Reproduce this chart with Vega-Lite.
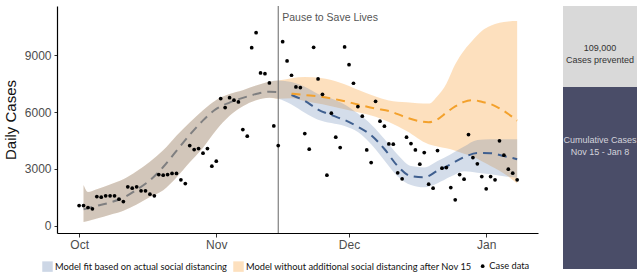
{
  "$schema": "https://vega.github.io/schema/vega-lite/v6.json",
  "padding": {"left": 3, "top": 5, "right": 0, "bottom": 0},
  "background": "white",
  "config": {
    "view": {"stroke": null},
    "font": "Liberation Sans",
    "axis": {"grid": false, "labelFont": "Liberation Sans", "titleFont": "Liberation Sans"}
  },
  "resolve": {
    "scale": {"color": "independent", "shape": "independent", "size": "independent", "x": "independent", "y": "independent"},
    "legend": {"color": "independent", "shape": "independent", "size": "independent"}
  },
  "datasets": {
    "pts": [
      {"date": "2020-10-01", "cases": 1070, "series": "Case data"},
      {"date": "2020-10-02", "cases": 1070, "series": "Case data"},
      {"date": "2020-10-03", "cases": 965, "series": "Case data"},
      {"date": "2020-10-04", "cases": 895, "series": "Case data"},
      {"date": "2020-10-05", "cases": 1545, "series": "Case data"},
      {"date": "2020-10-06", "cases": 1512, "series": "Case data"},
      {"date": "2020-10-07", "cases": 1580, "series": "Case data"},
      {"date": "2020-10-08", "cases": 1580, "series": "Case data"},
      {"date": "2020-10-09", "cases": 1580, "series": "Case data"},
      {"date": "2020-10-10", "cases": 1405, "series": "Case data"},
      {"date": "2020-10-11", "cases": 1280, "series": "Case data"},
      {"date": "2020-10-12", "cases": 2055, "series": "Case data"},
      {"date": "2020-10-13", "cases": 1987, "series": "Case data"},
      {"date": "2020-10-14", "cases": 2055, "series": "Case data"},
      {"date": "2020-10-15", "cases": 1845, "series": "Case data"},
      {"date": "2020-10-16", "cases": 1845, "series": "Case data"},
      {"date": "2020-10-17", "cases": 1670, "series": "Case data"},
      {"date": "2020-10-18", "cases": 1580, "series": "Case data"},
      {"date": "2020-10-19", "cases": 2705, "series": "Case data"},
      {"date": "2020-10-20", "cases": 2670, "series": "Case data"},
      {"date": "2020-10-21", "cases": 2705, "series": "Case data"},
      {"date": "2020-10-22", "cases": 2760, "series": "Case data"},
      {"date": "2020-10-23", "cases": 2760, "series": "Case data"},
      {"date": "2020-10-24", "cases": 2425, "series": "Case data"},
      {"date": "2020-10-25", "cases": 2230, "series": "Case data"},
      {"date": "2020-10-26", "cases": 4230, "series": "Case data"},
      {"date": "2020-10-27", "cases": 4020, "series": "Case data"},
      {"date": "2020-10-28", "cases": 4075, "series": "Case data"},
      {"date": "2020-10-29", "cases": 3830, "series": "Case data"},
      {"date": "2020-10-30", "cases": 4075, "series": "Case data"},
      {"date": "2020-10-31", "cases": 3145, "series": "Case data"},
      {"date": "2020-11-01", "cases": 3410, "series": "Case data"},
      {"date": "2020-11-02", "cases": 6710, "series": "Case data"},
      {"date": "2020-11-03", "cases": 6235, "series": "Case data"},
      {"date": "2020-11-04", "cases": 6760, "series": "Case data"},
      {"date": "2020-11-05", "cases": 6625, "series": "Case data"},
      {"date": "2020-11-06", "cases": 6535, "series": "Case data"},
      {"date": "2020-11-07", "cases": 5075, "series": "Case data"},
      {"date": "2020-11-08", "cases": 4727, "series": "Case data"},
      {"date": "2020-11-09", "cases": 9397, "series": "Case data"},
      {"date": "2020-11-10", "cases": 10187, "series": "Case data"},
      {"date": "2020-11-11", "cases": 8063, "series": "Case data"},
      {"date": "2020-11-12", "cases": 8026, "series": "Case data"},
      {"date": "2020-11-13", "cases": 7536, "series": "Case data"},
      {"date": "2020-11-14", "cases": 5270, "series": "Case data"},
      {"date": "2020-11-15", "cases": 4232, "series": "Case data"},
      {"date": "2020-11-16", "cases": 9713, "series": "Case data"},
      {"date": "2020-11-17", "cases": 8696, "series": "Case data"},
      {"date": "2020-11-18", "cases": 7942, "series": "Case data"},
      {"date": "2020-11-19", "cases": 7325, "series": "Case data"},
      {"date": "2020-11-20", "cases": 7290, "series": "Case data"},
      {"date": "2020-11-21", "cases": 4865, "series": "Case data"},
      {"date": "2020-11-22", "cases": 4040, "series": "Case data"},
      {"date": "2020-11-23", "cases": 9415, "series": "Case data"},
      {"date": "2020-11-24", "cases": 7747, "series": "Case data"},
      {"date": "2020-11-25", "cases": 6938, "series": "Case data"},
      {"date": "2020-11-26", "cases": 2670, "series": "Case data"},
      {"date": "2020-11-27", "cases": 5940, "series": "Case data"},
      {"date": "2020-11-28", "cases": 4675, "series": "Case data"},
      {"date": "2020-11-29", "cases": 4128, "series": "Case data"},
      {"date": "2020-11-30", "cases": 9433, "series": "Case data"},
      {"date": "2020-12-01", "cases": 8500, "series": "Case data"},
      {"date": "2020-12-02", "cases": 7520, "series": "Case data"},
      {"date": "2020-12-03", "cases": 6290, "series": "Case data"},
      {"date": "2020-12-04", "cases": 5780, "series": "Case data"},
      {"date": "2020-12-05", "cases": 4005, "series": "Case data"},
      {"date": "2020-12-06", "cases": 3337, "series": "Case data"},
      {"date": "2020-12-07", "cases": 6570, "series": "Case data"},
      {"date": "2020-12-08", "cases": 5518, "series": "Case data"},
      {"date": "2020-12-09", "cases": 5254, "series": "Case data"},
      {"date": "2020-12-10", "cases": 4320, "series": "Case data"},
      {"date": "2020-12-11", "cases": 4305, "series": "Case data"},
      {"date": "2020-12-12", "cases": 2793, "series": "Case data"},
      {"date": "2020-12-13", "cases": 2477, "series": "Case data"},
      {"date": "2020-12-14", "cases": 4675, "series": "Case data"},
      {"date": "2020-12-15", "cases": 4337, "series": "Case data"},
      {"date": "2020-12-16", "cases": 4005, "series": "Case data"},
      {"date": "2020-12-17", "cases": 3250, "series": "Case data"},
      {"date": "2020-12-18", "cases": 3863, "series": "Case data"},
      {"date": "2020-12-19", "cases": 2197, "series": "Case data"},
      {"date": "2020-12-20", "cases": 1987, "series": "Case data"},
      {"date": "2020-12-21", "cases": 3968, "series": "Case data"},
      {"date": "2020-12-22", "cases": 3040, "series": "Case data"},
      {"date": "2020-12-23", "cases": 3073, "series": "Case data"},
      {"date": "2020-12-24", "cases": 2020, "series": "Case data"},
      {"date": "2020-12-25", "cases": 1370, "series": "Case data"},
      {"date": "2020-12-26", "cases": 2705, "series": "Case data"},
      {"date": "2020-12-27", "cases": 2460, "series": "Case data"},
      {"date": "2020-12-28", "cases": 4813, "series": "Case data"},
      {"date": "2020-12-29", "cases": 3600, "series": "Case data"},
      {"date": "2020-12-30", "cases": 3267, "series": "Case data"},
      {"date": "2020-12-31", "cases": 2600, "series": "Case data"},
      {"date": "2021-01-01", "cases": 1950, "series": "Case data"},
      {"date": "2021-01-02", "cases": 2600, "series": "Case data"},
      {"date": "2021-01-03", "cases": 2424, "series": "Case data"},
      {"date": "2021-01-04", "cases": 4480, "series": "Case data"},
      {"date": "2021-01-05", "cases": 3726, "series": "Case data"},
      {"date": "2021-01-06", "cases": 2988, "series": "Case data"},
      {"date": "2021-01-07", "cases": 2777, "series": "Case data"},
      {"date": "2021-01-08", "cases": 2424, "series": "Case data"}
    ],
    "model": [
      {"date": "2020-10-02", "model": "both", "lo": 200, "mid": 870, "hi": 2150},
      {"date": "2020-10-03", "model": "both", "lo": 250, "mid": 930, "hi": 1780},
      {"date": "2020-10-05", "model": "both", "lo": 380, "mid": 1050, "hi": 1930},
      {"date": "2020-10-08", "model": "both", "lo": 580, "mid": 1230, "hi": 2180},
      {"date": "2020-10-11", "model": "both", "lo": 790, "mid": 1480, "hi": 2460},
      {"date": "2020-10-14", "model": "both", "lo": 1120, "mid": 1900, "hi": 2880},
      {"date": "2020-10-17", "model": "both", "lo": 1520, "mid": 2400, "hi": 3380},
      {"date": "2020-10-20", "model": "both", "lo": 1880, "mid": 3100, "hi": 3980},
      {"date": "2020-10-23", "model": "both", "lo": 2550, "mid": 3950, "hi": 4750},
      {"date": "2020-10-26", "model": "both", "lo": 3350, "mid": 4800, "hi": 5450},
      {"date": "2020-10-29", "model": "both", "lo": 4120, "mid": 5560, "hi": 6100},
      {"date": "2020-11-01", "model": "both", "lo": 5050, "mid": 6170, "hi": 6640},
      {"date": "2020-11-04", "model": "both", "lo": 5800, "mid": 6500, "hi": 6950},
      {"date": "2020-11-07", "model": "both", "lo": 6300, "mid": 6750, "hi": 7150},
      {"date": "2020-11-10", "model": "both", "lo": 6620, "mid": 6950, "hi": 7400},
      {"date": "2020-11-13", "model": "both", "lo": 6760, "mid": 7070, "hi": 7600},
      {"date": "2020-11-15", "model": "both", "lo": 6700, "mid": 7060, "hi": 7660},
      {"date": "2020-11-18", "model": "blue", "lo": 6400, "mid": 6900, "hi": 7580},
      {"date": "2020-11-21", "model": "blue", "lo": 5960, "mid": 6590, "hi": 7330},
      {"date": "2020-11-24", "model": "blue", "lo": 5600, "mid": 6130, "hi": 6950},
      {"date": "2020-11-27", "model": "blue", "lo": 5420, "mid": 5840, "hi": 6720},
      {"date": "2020-11-30", "model": "blue", "lo": 5270, "mid": 5580, "hi": 6400},
      {"date": "2020-12-03", "model": "blue", "lo": 4950, "mid": 5230, "hi": 5920},
      {"date": "2020-12-06", "model": "blue", "lo": 4300, "mid": 4780, "hi": 5350},
      {"date": "2020-12-09", "model": "blue", "lo": 3450, "mid": 4050, "hi": 4580},
      {"date": "2020-12-12", "model": "blue", "lo": 2600, "mid": 3150, "hi": 3750},
      {"date": "2020-12-15", "model": "blue", "lo": 2150, "mid": 2620, "hi": 3150},
      {"date": "2020-12-18", "model": "blue", "lo": 2030, "mid": 2560, "hi": 3080},
      {"date": "2020-12-21", "model": "blue", "lo": 2250, "mid": 2900, "hi": 3420},
      {"date": "2020-12-24", "model": "blue", "lo": 2600, "mid": 3250, "hi": 3780},
      {"date": "2020-12-27", "model": "blue", "lo": 2880, "mid": 3620, "hi": 4180},
      {"date": "2020-12-30", "model": "blue", "lo": 2800, "mid": 3840, "hi": 4530},
      {"date": "2021-01-02", "model": "blue", "lo": 2720, "mid": 3830, "hi": 4570},
      {"date": "2021-01-05", "model": "blue", "lo": 2620, "mid": 3680, "hi": 4570},
      {"date": "2021-01-08", "model": "blue", "lo": 2540, "mid": 3515, "hi": 4570},
      {"date": "2020-11-18", "model": "orange", "lo": 6730, "mid": 6970, "hi": 7790},
      {"date": "2020-11-21", "model": "orange", "lo": 6590, "mid": 6900, "hi": 7850},
      {"date": "2020-11-25", "model": "orange", "lo": 6415, "mid": 6800, "hi": 7785},
      {"date": "2020-11-29", "model": "orange", "lo": 6200, "mid": 6625, "hi": 7550},
      {"date": "2020-12-03", "model": "orange", "lo": 5990, "mid": 6400, "hi": 7180},
      {"date": "2020-12-07", "model": "orange", "lo": 5750, "mid": 6180, "hi": 6820},
      {"date": "2020-12-10", "model": "orange", "lo": 5480, "mid": 6060, "hi": 6615},
      {"date": "2020-12-14", "model": "orange", "lo": 5006, "mid": 5710, "hi": 6520},
      {"date": "2020-12-19", "model": "orange", "lo": 4305, "mid": 5460, "hi": 6445},
      {"date": "2020-12-21", "model": "orange", "lo": 4180, "mid": 5620, "hi": 6850},
      {"date": "2020-12-23", "model": "orange", "lo": 4085, "mid": 5970, "hi": 7500},
      {"date": "2020-12-25", "model": "orange", "lo": 3960, "mid": 6300, "hi": 8520},
      {"date": "2020-12-27", "model": "orange", "lo": 3800, "mid": 6540, "hi": 9250},
      {"date": "2020-12-29", "model": "orange", "lo": 3650, "mid": 6630, "hi": 9800},
      {"date": "2020-12-31", "model": "orange", "lo": 3400, "mid": 6540, "hi": 10277},
      {"date": "2021-01-02", "model": "orange", "lo": 3150, "mid": 6420, "hi": 10550},
      {"date": "2021-01-04", "model": "orange", "lo": 2900, "mid": 6200, "hi": 10714},
      {"date": "2021-01-06", "model": "orange", "lo": 2600, "mid": 5900, "hi": 10780},
      {"date": "2021-01-08", "model": "orange", "lo": 2230, "mid": 5550, "hi": 10800}
    ],
    "notes": [
      {"date": "2020-11-15", "value": 10960, "label": "Pause to Save Lives"}
    ],
    "panel": [
      {"seg": "Cases prevented", "start": 245, "end": 354, "pos": 297, "label": "109,000\nCases prevented"},
      {"seg": "Cumulative Cases", "start": 0, "end": 245, "pos": 173, "label": "Cumulative Cases\nNov 15 - Jan 8"}
    ]
  },
  "hconcat": [
    {
      "width": 481,
      "height": 227,
      "encoding": {
        "x": {
          "field": "date", "type": "temporal",
          "scale": {"type": "utc", "domain": [{"year": 2020, "month": 9, "date": 26, "utc": true}, {"year": 2021, "month": 1, "date": 12, "hours": 17, "utc": true}]},
          "axis": {
            "title": null, "format": "%b",
            "values": [{"year": 2020, "month": 10, "date": 1, "utc": true}, {"year": 2020, "month": 11, "date": 1, "utc": true}, {"year": 2020, "month": 12, "date": 1, "utc": true}, {"year": 2021, "month": 1, "date": 1, "utc": true}],
            "labelFontSize": 12, "labelColor": "#4d4d4d", "tickSize": 4, "tickColor": "#333", "domainColor": "#000", "domainWidth": 1.2, "labelPadding": 2
          }
        }
      },
      "layer": [
        {
          "data": {"name": "model"},
          "transform": [{"filter": "datum.model == 'both' || datum.model == 'orange'"}],
          "mark": {"type": "area", "interpolate": "monotone", "color": "#f89017", "opacity": 0.28},
          "encoding": {
            "y": {"field": "lo", "type": "quantitative",
              "scale": {"domain": [-380, 11595], "nice": false, "zero": false},
              "axis": {"title": "Daily Cases", "titleFontSize": 15, "titleFontWeight": "normal", "titleColor": "#111", "titlePadding": 6, "values": [0, 3000, 6000, 9000], "format": "d", "labelFontSize": 12, "labelColor": "#4d4d4d", "tickSize": 3, "tickColor": "#333", "domainColor": "#000", "domainWidth": 1.2, "labelPadding": 3}},
            "y2": {"field": "hi"}
          }
        },
        {
          "data": {"name": "model"},
          "transform": [{"filter": "datum.model == 'both' || datum.model == 'blue'"}],
          "mark": {"type": "area", "interpolate": "monotone", "color": "#5a7cae", "opacity": 0.26},
          "encoding": {
            "y": {"field": "lo", "type": "quantitative"},
            "y2": {"field": "hi"}
          }
        },
        {
          "data": {"name": "model"},
          "transform": [{"filter": "datum.model == 'both'"}],
          "mark": {"type": "line", "interpolate": "monotone", "color": "#7f7f80", "strokeWidth": 2, "strokeDash": [9, 6]},
          "encoding": {"y": {"field": "mid", "type": "quantitative"}}
        },
        {
          "data": {"name": "model"},
          "transform": [{"filter": "datum.model == 'blue' || datum.date == '2020-11-15'"}],
          "mark": {"type": "line", "interpolate": "monotone", "color": "#3f5f8f", "strokeWidth": 2, "strokeDash": [9, 6]},
          "encoding": {"y": {"field": "mid", "type": "quantitative"}}
        },
        {
          "data": {"name": "model"},
          "transform": [{"filter": "datum.model == 'orange' || datum.date == '2020-11-15'"}],
          "mark": {"type": "line", "interpolate": "monotone", "color": "#f3a12c", "strokeWidth": 2, "strokeDash": [9, 6]},
          "encoding": {"y": {"field": "mid", "type": "quantitative"}}
        },
        {
          "data": {"name": "notes"},
          "mark": {"type": "rule", "color": "#666", "strokeWidth": 1},
          "encoding": {}
        },
        {
          "data": {"name": "notes"},
          "mark": {"type": "text", "align": "left", "baseline": "middle", "dx": 4, "fontSize": 10.5, "color": "#555", "font": "Liberation Sans"},
          "encoding": {"y": {"field": "value", "type": "quantitative"}, "text": {"field": "label"}}
        },
        {
          "data": {"name": "pts"},
          "mark": {"type": "point", "filled": true, "opacity": 1},
          "encoding": {
            "y": {"field": "cases", "type": "quantitative"},
            "color": {"field": "series", "type": "nominal",
              "scale": {"domain": ["Model fit based on actual social distancing", "Model without additional social distancing after Nov 15", "Case data"], "range": ["#cdd7e6", "#fde0be", "#000000"]},
              "legend": {"orient": "none", "legendX": -15, "legendY": 255, "direction": "horizontal", "title": null, "labelFont": "Lato", "labelFontSize": 9.3, "labelColor": "#111", "symbolStrokeWidth": 0, "columnPadding": 6, "labelOffset": 2, "labelLimit": 400}},
            "shape": {"field": "series", "type": "nominal",
              "scale": {"domain": ["Model fit based on actual social distancing", "Model without additional social distancing after Nov 15", "Case data"], "range": ["square", "square", "circle"]},
              "legend": {"orient": "none", "legendX": -15, "legendY": 255, "direction": "horizontal", "title": null, "labelFont": "Lato", "labelFontSize": 9.3, "labelColor": "#111", "symbolStrokeWidth": 0, "columnPadding": 6, "labelOffset": 2, "labelLimit": 400}},
            "size": {"field": "series", "type": "nominal",
              "scale": {"type": "ordinal", "domain": ["Model fit based on actual social distancing", "Model without additional social distancing after Nov 15", "Case data"], "range": [110, 110, 14]},
              "legend": {"orient": "none", "legendX": -15, "legendY": 255, "direction": "horizontal", "title": null, "labelFont": "Lato", "labelFontSize": 9.3, "labelColor": "#111", "symbolStrokeWidth": 0, "columnPadding": 6, "labelOffset": 2, "labelLimit": 400}}
          }
        }
      ]
    },
    {
      "width": 74,
      "height": 263,
      "data": {"name": "panel"},
      "layer": [
        {
          "mark": {"type": "bar"},
          "encoding": {
            "x": {"datum": "panel", "type": "nominal", "axis": null, "scale": {"domain": ["panel"], "paddingInner": 0, "paddingOuter": 0}},
            "y": {"field": "start", "type": "quantitative", "axis": null, "scale": {"domain": [0, 354], "nice": false}},
            "y2": {"field": "end"},
            "color": {"field": "seg", "type": "nominal", "legend": null, "scale": {"domain": ["Cases prevented", "Cumulative Cases"], "range": ["#d9d9d9", "#4a4d68"]}}
          }
        },
        {
          "transform": [{"filter": "datum.seg == 'Cases prevented'"}],
          "mark": {"type": "text", "lineBreak": "\n", "fontSize": 9, "lineHeight": 12, "color": "#333", "font": "Liberation Sans", "baseline": "middle"},
          "encoding": {
            "x": {"datum": "panel", "type": "nominal"},
            "y": {"field": "pos", "type": "quantitative"},
            "text": {"field": "label"}
          }
        },
        {
          "transform": [{"filter": "datum.seg == 'Cumulative Cases'"}],
          "mark": {"type": "text", "lineBreak": "\n", "fontSize": 9, "lineHeight": 12, "color": "#d4d4dc", "font": "Liberation Sans", "baseline": "middle"},
          "encoding": {
            "x": {"datum": "panel", "type": "nominal"},
            "y": {"field": "pos", "type": "quantitative"},
            "text": {"field": "label"}
          }
        }
      ]
    }
  ],
  "spacing": 25
}
